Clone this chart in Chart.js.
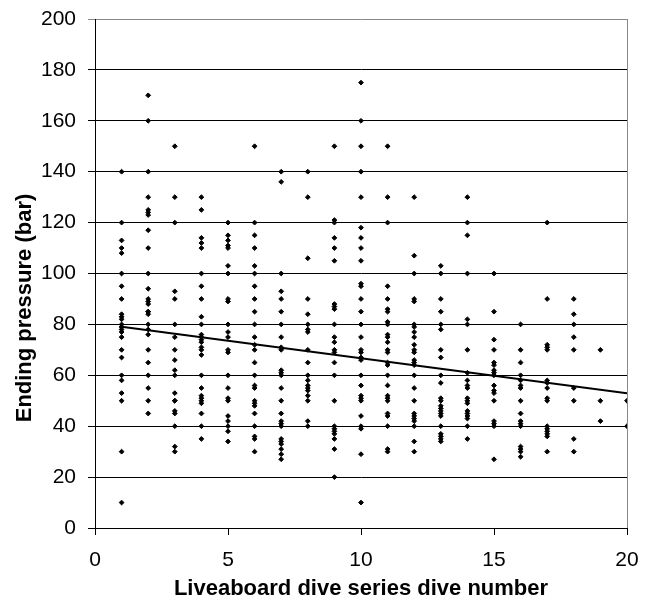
<!DOCTYPE html>
<html>
<head>
<meta charset="utf-8">
<script src="https://cdn.jsdelivr.net/npm/chart.js@4.4.1/dist/chart.umd.min.js"></script>
<style>
    html, body { margin: 0; padding: 0; background: #fff; }
    #wrap { width: 650px; height: 600px; }
</style>
</head>
<body>
<div id="wrap"><canvas id="myChart"></canvas></div>
<script>
// ending pressure (bar), one array per dive number
const dive01 = [140, 120, 113, 110, 108, 100, 95, 90, 84, 83, 82, 80, 79, 78, 77, 75, 70, 67, 60, 58, 53, 50, 30, 10];
const dive02 = [170, 160, 140, 130, 125, 124, 123, 117, 110, 100, 94, 90, 89, 88, 85, 85, 84, 80, 78, 76, 70, 65, 60, 55, 50, 45];
const dive03 = [150, 130, 120, 93, 90, 80, 75, 70, 66, 62, 60, 53, 50, 50, 46, 45, 40, 32, 30];
const dive04 = [130, 125, 114, 112, 110, 100, 95, 90, 83, 80, 76, 75, 74, 73, 71, 70, 68, 60, 55, 52, 51, 50, 49, 45, 40, 35];
const dive05 = [120, 115, 113, 111, 110, 103, 100, 90, 89, 80, 77, 75, 70, 69, 60, 55, 51, 50, 44, 42, 40, 38, 34];
const dive06 = [150, 120, 115, 110, 103, 100, 95, 90, 85, 80, 75, 72, 70, 65, 60, 56, 55, 50, 49, 48, 45, 40, 36, 35, 30];
const dive07 = [140, 136, 100, 93, 90, 85, 80, 75, 71, 70, 62, 61, 60, 55, 50, 45, 42, 41, 40, 35, 34, 33, 31, 29, 27];
const dive08 = [140, 130, 106, 90, 84, 80, 78, 77, 70, 65, 60, 58, 56, 55, 54, 52, 50, 42, 40];
const dive09 = [150, 121, 120, 114, 110, 105, 88, 87, 86, 80, 75, 73, 70, 69, 65, 60, 50, 40, 39, 38, 37, 35, 31, 20];
const dive10 = [175, 160, 150, 140, 130, 118, 114, 110, 105, 96, 95, 90, 85, 80, 75, 70, 69, 67, 66, 60, 56, 52, 51, 50, 44, 40, 39, 29, 10];
const dive11 = [150, 130, 120, 95, 90, 86, 85, 81, 80, 76, 75, 73, 70, 69, 65, 64, 60, 56, 52, 51, 50, 45, 44, 40, 31, 30];
const dive12 = [130, 107, 100, 90, 89, 80, 79, 77, 75, 72, 70, 69, 66, 65, 64, 60, 55, 50, 45, 44, 43, 42, 40, 34, 30];
const dive13 = [103, 100, 90, 85, 80, 78, 70, 67, 60, 57, 51, 50, 48, 47, 46, 45, 44, 40, 37, 36, 35, 34];
const dive14 = [130, 120, 115, 100, 82, 80, 70, 61, 58, 56, 55, 51, 50, 49, 46, 45, 44, 43, 40, 35];
const dive15 = [100, 85, 74, 70, 65, 64, 62, 61, 60, 56, 54, 53, 50, 42, 41, 40, 27];
const dive16 = [80, 70, 65, 60, 58, 56, 55, 50, 45, 42, 41, 40, 32, 31, 30, 28];
const dive17 = [120, 90, 72, 71, 70, 58, 57, 55, 51, 50, 40, 39, 38, 37, 36, 30];
const dive18 = [90, 84, 80, 75, 70, 55, 50, 35, 30];
const dive19 = [70, 50, 42];
const dive20 = [50, 40];

const diveNumbers = [1, 2, 3, 4, 5, 6, 7, 8, 9, 10, 11, 12, 13, 14, 15, 16, 17, 18, 19, 20];
const diveColumns = [dive01, dive02, dive03, dive04, dive05, dive06, dive07, dive08, dive09, dive10,
    dive11, dive12, dive13, dive14, dive15, dive16, dive17, dive18, dive19, dive20];

// trend line ends as drawn in the picture
const trendX = [1, 20];
const trendY = [79.1, 52.9];

const xTitle = 'Liveaboard dive series dive number';
const yTitle = 'Ending pressure (bar)';

const FONT = "'Liberation Sans', Arial, sans-serif";

const points = [];
diveNumbers.forEach((d, i) => {
    diveColumns[i].forEach(v => points.push({x: d, y: v}));
});
const trend = trendX.map((x, i) => ({x: x, y: trendY[i]}));

// y title is drawn a little below the plot centre, as in the original
const yTitlePlugin = {
    id: 'yTitlePlugin',
    afterDraw(chart) {
        const ctx = chart.ctx;
        ctx.save();
        ctx.translate(25, 308);
        ctx.rotate(-Math.PI / 2);
        ctx.font = "bold 22px " + FONT;
        ctx.fillStyle = '#000';
        ctx.textAlign = 'center';
        ctx.textBaseline = 'middle';
        ctx.fillText(yTitle, 0, 0);
        ctx.restore();
    }
};

new Chart(document.getElementById('myChart'), {
    type: 'scatter',
    data: {
        datasets: [{
            type: 'line',
            data: trend,
            borderColor: '#000',
            borderWidth: 2,
            pointRadius: 0,
            fill: false
        }, {
            data: points,
            pointStyle: 'rectRot',
            pointRadius: 2.4,
            backgroundColor: '#000',
            borderColor: '#000',
            borderWidth: 1
        }]
    },
    options: {
        responsive: true,
        maintainAspectRatio: false,
        animation: false,
        layout: {padding: {left: 0, top: 19, right: 23, bottom: 0}},
        plugins: {
            legend: {display: false},
            tooltip: {enabled: false}
        },
        scales: {
            x: {
                type: 'linear',
                min: 0,
                max: 20,
                afterFit: s => {
                    // fixed axis band, no extra room for the end labels
                    s.height = 72;
                    s.paddingLeft = 0;
                    s.paddingRight = 0;
                },
                ticks: {stepSize: 5, color: '#000', padding: 13, font: {family: FONT, size: 21}},
                grid: {
                    drawOnChartArea: true,
                    color: c => (c.tick && c.tick.value === 20) ? '#888' : 'rgba(0,0,0,0)',
                    tickColor: '#000',
                    tickLength: 7,
                    lineWidth: 1
                },
                border: {display: true, color: '#000', width: 1},
                title: {
                    display: true,
                    text: xTitle,
                    color: '#000',
                    padding: 0,
                    font: {family: FONT, size: 22, weight: 'bold', lineHeight: 1}
                }
            },
            y: {
                min: 0,
                max: 200,
                afterFit: s => {
                    s.width = 95;
                    s.paddingTop = 0;
                    s.paddingBottom = 0;
                },
                ticks: {stepSize: 20, color: '#000', padding: 12, font: {family: FONT, size: 21}},
                grid: {
                    color: c => (c.tick && c.tick.value === 200) ? '#888' : '#000',
                    tickLength: 7,
                    lineWidth: 1
                },
                border: {display: true, color: '#000', width: 1}
            }
        }
    },
    plugins: [yTitlePlugin]
});
</script>
</body>
</html>
